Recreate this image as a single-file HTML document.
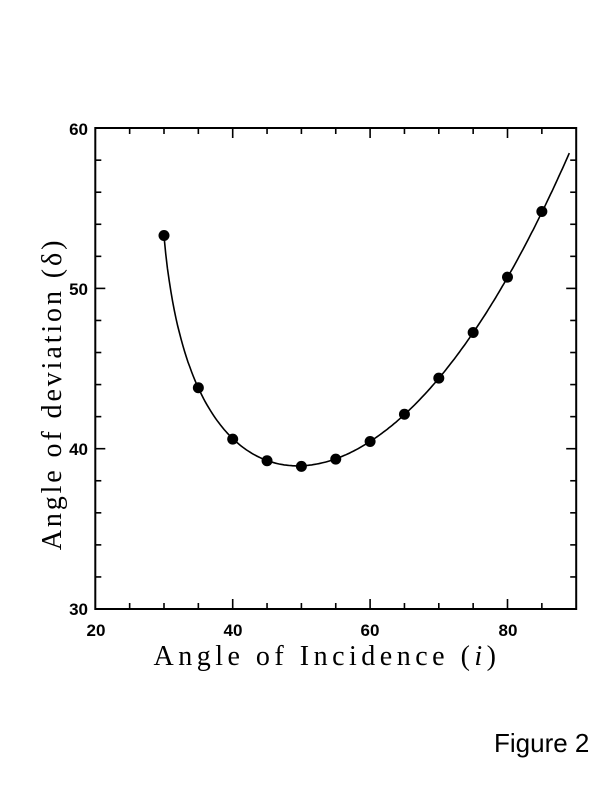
<!DOCTYPE html>
<html><head><style>body{margin:0;background:#fff}svg{display:block}</style></head><body>
<svg id="s" width="612" height="792" xmlns="http://www.w3.org/2000/svg" font-family="Liberation Sans, sans-serif">
<rect x="95.3" y="128" width="480.9" height="481" fill="none" stroke="#000" stroke-width="2"/>
<g id="ticks" stroke="#000" stroke-width="1.6"></g>
<polyline id="curve" fill="none" stroke="#000" stroke-width="1.6"/>
<g id="dots"></g>
<g font-size="17" font-weight="bold" text-anchor="end">
<text x="88" y="135">60</text><text x="88" y="295">50</text><text x="88" y="455">40</text><text x="88" y="615">30</text>
</g>
<g font-size="17" font-weight="bold" text-anchor="middle">
<text x="96" y="636">20</text><text x="233" y="636">40</text><text x="370" y="636">60</text><text x="508" y="636">80</text>
</g>
<text x="327" y="665" font-family="Liberation Serif, serif" font-size="28" text-anchor="middle" letter-spacing="4.5">Angle of Incidence (<tspan font-style="italic">i</tspan>)</text>
<text transform="translate(61,394) rotate(-90)" font-family="Liberation Serif, serif" font-size="28" text-anchor="middle" letter-spacing="2.9">Angle of deviation (δ)</text>
<text x="494" y="752" font-size="26">Figure 2</text>
</svg>
<script>
var X=function(x){return 95.3+(x-20)*6.87},Y=function(y){return 609-(y-30)*16.03};
var t=document.getElementById('ticks'),h='';
for(var x=25;x<90;x+=5){var L=(x%20==0)?10:6;h+='<line x1="'+X(x)+'" y1="609" x2="'+X(x)+'" y2="'+(609-L)+'"/><line x1="'+X(x)+'" y1="128" x2="'+X(x)+'" y2="'+(128+L)+'"/>';}
for(var y=32;y<60;y+=2){var L=(y%10==0)?10:6;h+='<line x1="95.3" y1="'+Y(y)+'" x2="'+(95.3+L)+'" y2="'+Y(y)+'"/><line x1="576.2" y1="'+Y(y)+'" x2="'+(576.2-L)+'" y2="'+Y(y)+'"/>';}
t.innerHTML=h;
var n=1.52,A=60,r=Math.PI/180,p=[];
function d(i){var r1=Math.asin(Math.sin(i*r)/n);var e=Math.asin(n*Math.sin(A*r-r1));return i+e/r-A;}
for(var i=30;i<=89;i+=0.25)p.push(X(i).toFixed(1)+','+Y(d(i)).toFixed(1));
document.getElementById('curve').setAttribute('points',p.join(' '));
var pts=[[30,53.3],[35,43.8],[40,40.6],[45,39.25],[50,38.9],[55,39.35],[60,40.45],[65,42.15],[70,44.4],[75,47.25],[80,50.7],[85,54.8]],g='';
pts.forEach(function(q){g+='<circle cx="'+X(q[0])+'" cy="'+Y(q[1])+'" r="5.5"/>';});
document.getElementById('dots').innerHTML=g;
</script>
</body></html>
